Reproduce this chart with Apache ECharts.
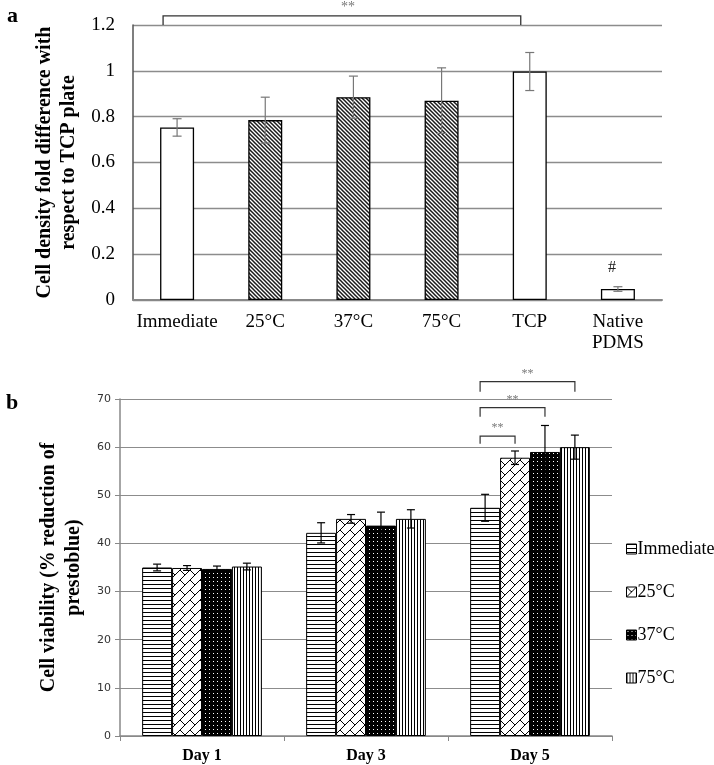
<!DOCTYPE html>
<html><head><meta charset="utf-8">
<script src="https://cdn.jsdelivr.net/npm/echarts@6/dist/echarts.min.js"></script>
<style>html,body{margin:0;padding:0;background:#fff}#c{width:714px;height:765px}</style>
</head><body><div id="c"></div>
<script>
// ---------- DATA ----------
const catsA = ['Immediate', '25°C', '37°C', '75°C', 'TCP', 'Native\nPDMS'];
const valsA = [0.753, 0.785, 0.885, 0.87, 0.997, 0.048];
const errA  = [0.038, 0.100, 0.092, 0.143, 0.083, 0.010];
const hatchedA = [false, true, true, true, false, false];
const ticksA = [0, 1.2, 0.2];            // min, max, interval
const bracketsA = [[0, 4, 1.24, 1.2]];    // fromCat, toCat, top value, leg value
const sigMarkA = [[5, 0.14, '#']];        // cat, value, text

const catsB = ['Day 1', 'Day 3', 'Day 5'];
const namesB = ['Immediate', '25°C', '37°C', '75°C'];
const immB = [35.0, 42.2, 47.4];
const c25B = [34.9, 45.1, 57.8];
const c37B = [34.7, 43.7, 59.0];
const c75B = [35.2, 45.1, 60.0];
const errImmB = [0.7, 2.1, 2.8];
const err25B  = [0.5, 0.9, 1.4];
const err37B  = [0.6, 2.8, 5.5];
const err75B  = [0.7, 1.9, 2.5];
const ticksB = [0, 70, 10];
const bracketsB = [[2, 0, 1, 62.3, 60.7], [2, 0, 2, 68.2, 66.3], [2, 0, 3, 73.6, 71.5]]; // cat, fromSeries, toSeries, top, leg

// ---------- PATTERNS ----------
function pat(w, h, draw, bg) {
  const c = document.createElement('canvas'); c.width = w; c.height = h;
  const g = c.getContext('2d'); g.fillStyle = bg || '#fff'; g.fillRect(0, 0, w, h); draw(g);
  return { image: c, repeat: 'repeat' };
}
const diagA = pat(4, 4, g => {
  g.strokeStyle = '#1a1a1a'; g.lineWidth = 1.5; g.beginPath();
  g.moveTo(-1, -1); g.lineTo(5, 5); g.moveTo(3, -1); g.lineTo(5, 1); g.moveTo(-1, 3); g.lineTo(1, 5); g.stroke();
});
const horizB = pat(4, 4, g => { g.fillStyle = '#000'; g.fillRect(0, 0, 4, 1); });
const brickB = pat(10, 10, g => {
  g.strokeStyle = '#000'; g.lineWidth = 1; g.beginPath();
  g.moveTo(-1, 11); g.lineTo(11, -1); g.moveTo(0, 0); g.lineTo(5, 5); g.stroke();
});
const dotsB = pat(4, 4, g => { g.fillStyle = '#fff'; g.fillRect(1, 1, 1, 1); }, '#000');
const vertB = pat(3, 3, g => { g.fillStyle = '#000'; g.fillRect(0, 0, 1, 3); });
const patB = [horizB, brickB, dotsB, vertB];

const serif = 'Liberation Serif';
const chart = echarts.init(document.getElementById('c'));

const BAR_A = 34;
const GAP_B = 0.27;
function barX(api, ci, k, v) {
  const c = api.coord([ci, v]);
  const band = api.size([1, 0])[0];
  const gw = band * (1 - GAP_B), bw = gw / 4;
  return c[0] - gw / 2 + bw * (k + 0.5);
}
function errShape(x, yT, yB, cap, color) {
  const st = { stroke: color, lineWidth: 1.2 };
  return { type: 'group', children: [
    { type: 'line', shape: { x1: x, y1: yT, x2: x, y2: yB }, style: st },
    { type: 'line', shape: { x1: x - cap, y1: yT, x2: x + cap, y2: yT }, style: st },
    { type: 'line', shape: { x1: x - cap, y1: yB, x2: x + cap, y2: yB }, style: st }
  ]};
}

const valsB = [immB, c25B, c37B, c75B];
const errsB = [errImmB, err25B, err37B, err75B];

const series = [];
// Panel a bars
series.push({
  type: 'bar', xAxisIndex: 0, yAxisIndex: 0, barWidth: BAR_A,
  data: valsA.map((v, i) => ({ value: v, itemStyle: { color: hatchedA[i] ? diagA : '#fff', borderColor: '#000', borderWidth: 1.3 } })),
  silent: true
});
series.push({
  type: 'custom', xAxisIndex: 0, yAxisIndex: 0, z: 5, silent: true,
  data: valsA.map((v, i) => [i, v, errA[i]]),
  renderItem: (p, api) => {
    const ci = api.value(0), v = api.value(1), e = api.value(2);
    const x = api.coord([ci, v])[0];
    return errShape(x, api.coord([ci, v + e])[1], api.coord([ci, v - e])[1], 4.5, '#777');
  }
});
series.push({
  type: 'custom', xAxisIndex: 0, yAxisIndex: 0, z: 5, silent: true, clip: false,
  data: bracketsA,
  renderItem: (p, api) => {
    const a = api.value(0), b = api.value(1), top = api.value(2), leg = api.value(3);
    const x1 = api.coord([a, top])[0] - 14, x2 = api.coord([b, top])[0] - 9;
    const yT = api.coord([a, top])[1], yL = api.coord([a, leg])[1];
    return { type: 'group', children: [
      { type: 'polyline', shape: { points: [[x1, yL], [x1, yT], [x2, yT], [x2, yL]] }, style: { stroke: '#333', lineWidth: 1.3, fill: null } },
      { type: 'text', style: { text: '**', x: (x1 + x2) / 2 + 6, y: yT - 2, align: 'center', verticalAlign: 'bottom', fill: '#777', font: '14px ' + serif } }
    ]};
  }
});
series.push({
  type: 'custom', xAxisIndex: 0, yAxisIndex: 0, z: 5, silent: true,
  data: sigMarkA,
  renderItem: (p, api) => {
    const c = api.coord([api.value(0), api.value(1)]);
    return { type: 'text', style: { text: sigMarkA[p.dataIndex][2], x: c[0] - 6, y: c[1], align: 'center', verticalAlign: 'middle', fill: '#222', font: '16px ' + serif } };
  }
});
// Panel b bars
namesB.forEach((n, k) => {
  series.push({
    type: 'bar', name: n, xAxisIndex: 1, yAxisIndex: 1, barGap: 0, barCategoryGap: (GAP_B * 100) + '%',
    data: valsB[k], itemStyle: { color: patB[k], borderColor: '#000', borderWidth: 1 }, silent: true
  });
});
namesB.forEach((n, k) => {
  series.push({
    type: 'custom', xAxisIndex: 1, yAxisIndex: 1, z: 5, silent: true,
    data: valsB[k].map((v, i) => [i, v, errsB[k][i]]),
    renderItem: (p, api) => {
      const ci = api.value(0), v = api.value(1), e = api.value(2);
      const x = barX(api, ci, k, v);
      return errShape(x, api.coord([ci, v + e])[1], api.coord([ci, v - e])[1], 4, '#000');
    }
  });
});
series.push({
  type: 'custom', xAxisIndex: 1, yAxisIndex: 1, z: 5, silent: true, clip: false,
  data: bracketsB,
  renderItem: (p, api) => {
    const ci = api.value(0), a = api.value(1), b = api.value(2), top = api.value(3), leg = api.value(4);
    const x1 = barX(api, ci, a, top) - 5, x2 = barX(api, ci, b, top);
    const yT = api.coord([ci, top])[1], yL = api.coord([ci, leg])[1];
    return { type: 'group', children: [
      { type: 'polyline', shape: { points: [[x1, yL], [x1, yT], [x2, yT], [x2, yL]] }, style: { stroke: '#333', lineWidth: 1.2, fill: null } },
      { type: 'text', style: { text: '**', x: (x1 + x2) / 2, y: yT - 2, align: 'center', verticalAlign: 'bottom', fill: '#777', font: '12px ' + serif } }
    ]};
  }
});

chart.setOption({
  animation: false,
  backgroundColor: '#fff',
  graphic: [
    { type: 'text', left: 7, top: 5, style: { text: 'a', font: 'bold 22px ' + serif, fill: '#000' } },
    { type: 'text', left: 6, top: 392, style: { text: 'b', font: 'bold 22px ' + serif, fill: '#000' } }
  ],
  legend: {
    data: namesB, orient: 'vertical', left: 621, top: 535, itemGap: 25,
    itemWidth: 10, itemHeight: 10, icon: 'rect',
    itemStyle: { borderColor: '#000', borderWidth: 1 },
    textStyle: { fontFamily: serif, fontSize: 18, color: '#000', padding: [0, 0, 0, -4] }
  },
  grid: [
    { left: 133, right: 52, top: 25, bottom: 765 - 300 },
    { left: 120, right: 102, top: 399, bottom: 29 }
  ],
  xAxis: [
    { type: 'category', gridIndex: 0, data: catsA,
      axisLine: { lineStyle: { color: '#888', width: 2 } }, axisTick: { show: false },
      axisLabel: { fontFamily: serif, fontSize: 19, color: '#000', margin: 12, lineHeight: 21, interval: 0 } },
    { type: 'category', gridIndex: 1, data: catsB,
      axisLine: { lineStyle: { color: '#888', width: 1.5 } },
      axisTick: { show: true, length: 5, lineStyle: { color: '#888' } },
      axisLabel: { fontFamily: serif, fontSize: 16, fontWeight: 'bold', color: '#000', margin: 12 } }
  ],
  yAxis: [
    { type: 'value', gridIndex: 0, min: ticksA[0], max: ticksA[1], interval: ticksA[2],
      name: 'Cell density fold difference with\nrespect to TCP plate', nameLocation: 'middle', nameGap: 51,
      nameTextStyle: { fontFamily: serif, fontSize: 20, fontWeight: 'bold', color: '#000', lineHeight: 24 },
      axisLine: { show: true, lineStyle: { color: '#555', width: 1.5 } }, axisTick: { show: false },
      splitLine: { lineStyle: { color: '#8c8c8c', width: 1.3 } },
      axisLabel: { fontFamily: serif, fontSize: 19, color: '#000', margin: 18 } },
    { type: 'value', gridIndex: 1, min: ticksB[0], max: ticksB[1], interval: ticksB[2],
      name: 'Cell viability (% reduction of\nprestoblue)', nameLocation: 'middle', nameGap: 22,
      nameTextStyle: { fontFamily: serif, fontSize: 20, fontWeight: 'bold', color: '#000', lineHeight: 25 },
      axisLine: { show: true, lineStyle: { color: '#888', width: 1.5 } },
      axisTick: { show: true, length: 5, lineStyle: { color: '#888' } },
      splitLine: { lineStyle: { color: '#8c8c8c', width: 1.2 } },
      axisLabel: { fontFamily: 'DejaVu Sans', fontSize: 11, color: '#333', margin: 9 } }
  ],
  series: series
});
</script>
</body></html>
